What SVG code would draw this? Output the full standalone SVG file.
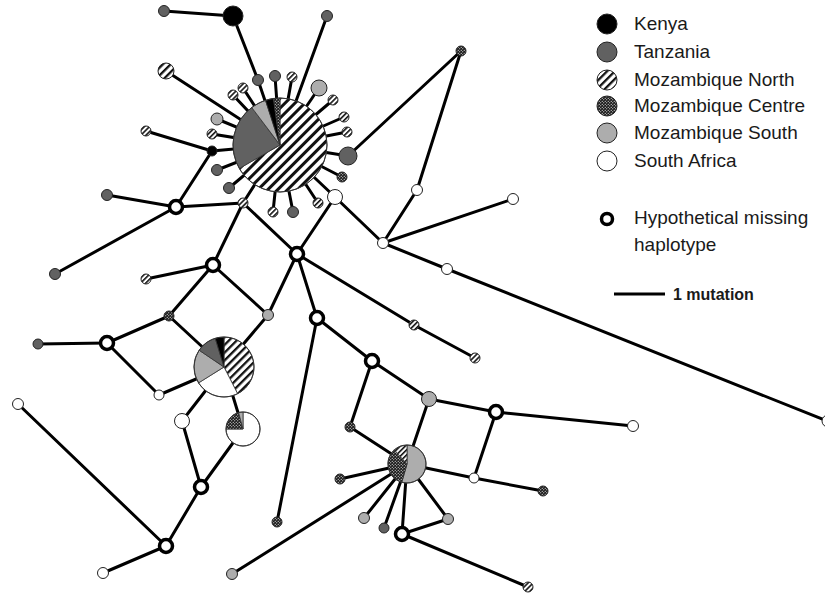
<svg xmlns="http://www.w3.org/2000/svg" width="825" height="594" viewBox="0 0 825 594">
<defs>
<pattern id="h7" patternUnits="userSpaceOnUse" width="7" height="7" patternTransform="rotate(45)"><rect width="7" height="7" fill="#fff"/><rect x="0" width="3" height="7" fill="#111"/></pattern>
<pattern id="h5" patternUnits="userSpaceOnUse" width="5.5" height="5.5" patternTransform="rotate(45)"><rect width="5.5" height="5.5" fill="#fff"/><rect x="0" width="2.3" height="5.5" fill="#111"/></pattern>
<pattern id="h3" patternUnits="userSpaceOnUse" width="3.6" height="3.6" patternTransform="rotate(45)"><rect width="3.6" height="3.6" fill="#fff"/><rect x="0" width="1.6" height="3.6" fill="#111"/></pattern>
<pattern id="ck" patternUnits="userSpaceOnUse" width="3" height="3"><rect width="3" height="3" fill="#1a1a1a"/><circle cx="0.75" cy="0.75" r="0.6" fill="#fff"/><circle cx="2.25" cy="2.25" r="0.6" fill="#fff"/></pattern>
</defs>
<style>
.e{stroke:#000;stroke-width:3;fill:none;stroke-linecap:round}
.n{stroke:#222;stroke-width:1}
.k{fill:#000}
.t{fill:#616161}
.ms{fill:#adadad}
.sa{fill:#fff}
.mn{fill:url(#h3)}
.mnb{fill:url(#h5)}
.mc{fill:url(#ck)}
.mi{fill:#fff;stroke:#000;stroke-width:3.5}
.sl{stroke:#333;stroke-width:0.8}
text{font-family:"Liberation Sans",Arial,sans-serif;fill:#1a1a1a}
.lg{font-size:19px}
.sc{font-size:16px;font-weight:bold}
</style>
<rect width="825" height="594" fill="#fff"/>
<g id="connectors">
<line class="e" x1="233" y1="16" x2="164" y2="11"/>
<line class="e" x1="233" y1="16" x2="258" y2="80"/>
<line class="e" x1="258" y1="80" x2="280" y2="145"/>
<line class="e" x1="275" y1="76" x2="280" y2="145"/>
<line class="e" x1="292" y1="77" x2="280" y2="145"/>
<line class="e" x1="327" y1="16" x2="280" y2="145"/>
<line class="e" x1="243" y1="88" x2="280" y2="145"/>
<line class="e" x1="233" y1="95" x2="280" y2="145"/>
<line class="e" x1="166" y1="71" x2="280" y2="145"/>
<line class="e" x1="217" y1="119" x2="280" y2="145"/>
<line class="e" x1="212" y1="134" x2="280" y2="145"/>
<line class="e" x1="212" y1="151" x2="280" y2="145"/>
<line class="e" x1="146" y1="131" x2="212" y2="151"/>
<line class="e" x1="212" y1="151" x2="176" y2="207"/>
<line class="e" x1="217" y1="170" x2="280" y2="145"/>
<line class="e" x1="229" y1="188" x2="280" y2="145"/>
<line class="e" x1="243" y1="203" x2="280" y2="145"/>
<line class="e" x1="273" y1="212" x2="280" y2="145"/>
<line class="e" x1="293" y1="212" x2="280" y2="145"/>
<line class="e" x1="318" y1="203" x2="280" y2="145"/>
<line class="e" x1="335" y1="197" x2="280" y2="145"/>
<line class="e" x1="342" y1="177" x2="280" y2="145"/>
<line class="e" x1="348" y1="156" x2="280" y2="145"/>
<line class="e" x1="347" y1="132" x2="280" y2="145"/>
<line class="e" x1="344" y1="117" x2="280" y2="145"/>
<line class="e" x1="333" y1="100" x2="280" y2="145"/>
<line class="e" x1="319" y1="88" x2="280" y2="145"/>
<line class="e" x1="348" y1="156" x2="461" y2="51"/>
<line class="e" x1="461" y1="51" x2="417" y2="190"/>
<line class="e" x1="417" y1="190" x2="383" y2="243"/>
<line class="e" x1="383" y1="243" x2="513" y2="199"/>
<line class="e" x1="383" y1="243" x2="447" y2="269"/>
<line class="e" x1="447" y1="269" x2="827" y2="421"/>
<line class="e" x1="335" y1="197" x2="383" y2="243"/>
<line class="e" x1="335" y1="197" x2="297" y2="254"/>
<line class="e" x1="176" y1="207" x2="107" y2="195"/>
<line class="e" x1="176" y1="207" x2="55" y2="274"/>
<line class="e" x1="176" y1="207" x2="243" y2="203"/>
<line class="e" x1="243" y1="203" x2="213" y2="265"/>
<line class="e" x1="243" y1="203" x2="297" y2="254"/>
<line class="e" x1="213" y1="265" x2="146" y2="279"/>
<line class="e" x1="213" y1="265" x2="169" y2="316"/>
<line class="e" x1="213" y1="265" x2="268" y2="315"/>
<line class="e" x1="297" y1="254" x2="268" y2="315"/>
<line class="e" x1="297" y1="254" x2="317" y2="318"/>
<line class="e" x1="297" y1="254" x2="414" y2="325"/>
<line class="e" x1="414" y1="325" x2="475" y2="358"/>
<line class="e" x1="169" y1="316" x2="107" y2="343"/>
<line class="e" x1="169" y1="316" x2="224" y2="367"/>
<line class="e" x1="107" y1="343" x2="38" y2="344"/>
<line class="e" x1="107" y1="343" x2="159" y2="395"/>
<line class="e" x1="159" y1="395" x2="224" y2="367"/>
<line class="e" x1="268" y1="315" x2="224" y2="367"/>
<line class="e" x1="224" y1="367" x2="182" y2="421"/>
<line class="e" x1="224" y1="367" x2="243" y2="429"/>
<line class="e" x1="182" y1="421" x2="201" y2="487"/>
<line class="e" x1="243" y1="429" x2="201" y2="487"/>
<line class="e" x1="201" y1="487" x2="166" y2="546"/>
<line class="e" x1="166" y1="546" x2="18" y2="404"/>
<line class="e" x1="166" y1="546" x2="103" y2="573"/>
<line class="e" x1="317" y1="318" x2="277" y2="522"/>
<line class="e" x1="317" y1="318" x2="372" y2="361"/>
<line class="e" x1="372" y1="361" x2="350" y2="427"/>
<line class="e" x1="372" y1="361" x2="429" y2="399"/>
<line class="e" x1="429" y1="399" x2="407" y2="464"/>
<line class="e" x1="429" y1="399" x2="496" y2="412"/>
<line class="e" x1="496" y1="412" x2="633" y2="426"/>
<line class="e" x1="496" y1="412" x2="474" y2="478"/>
<line class="e" x1="350" y1="427" x2="407" y2="464"/>
<line class="e" x1="340" y1="479" x2="407" y2="464"/>
<line class="e" x1="232" y1="574" x2="407" y2="464"/>
<line class="e" x1="364" y1="518" x2="407" y2="464"/>
<line class="e" x1="384" y1="528" x2="407" y2="464"/>
<line class="e" x1="402" y1="534" x2="407" y2="464"/>
<line class="e" x1="448" y1="519" x2="407" y2="464"/>
<line class="e" x1="474" y1="478" x2="407" y2="464"/>
<line class="e" x1="474" y1="478" x2="543" y2="491"/>
<line class="e" x1="402" y1="534" x2="448" y2="519"/>
<line class="e" x1="402" y1="534" x2="528" y2="587"/>
</g>
<g id="pie1">
<path class="sl" fill="url(#h7)" d="M280,145 L280,98 A47,47 0 1 1 239.3,168.5 Z"/>
<path class="sl t" d="M280,145 L239.3,168.5 A47,47 0 0 1 251.71,107.46 Z"/>
<path class="sl ms" d="M280,145 L251.71,107.46 A47,47 0 0 1 265.48,100.3 Z"/>
<path class="sl k" d="M280,145 L265.48,100.3 A47,47 0 0 1 273.46,98.46 Z"/>
<path class="sl mc" d="M280,145 L273.46,98.46 A47,47 0 0 1 280,98 Z"/>
<circle cx="280" cy="145" r="47" fill="none" stroke="#333" stroke-width="1"/>
</g>
<g id="pie2">
<path class="sl" fill="url(#h5)" d="M224,367 L224,337 A30,30 0 0 1 237.62,393.73 Z"/>
<path class="sl sa" d="M224,367 L237.62,393.73 A30,30 0 0 1 198.56,382.9 Z"/>
<path class="sl ms" d="M224,367 L198.56,382.9 A30,30 0 0 1 199.13,350.22 Z"/>
<path class="sl t" d="M224,367 L199.13,350.22 A30,30 0 0 1 215.23,338.31 Z"/>
<path class="sl k" d="M224,367 L215.23,338.31 A30,30 0 0 1 224,337 Z"/>
<circle cx="224" cy="367" r="30" fill="none" stroke="#333" stroke-width="1"/>
</g>
<g id="pie3">
<path class="sl sa" d="M243,429 L243,412 A17,17 0 1 1 226,429 Z"/>
<path class="sl mc" d="M243,429 L226,429 A17,17 0 0 1 238.6,412.58 Z"/>
<path class="sl ms" d="M243,429 L238.6,412.58 A17,17 0 0 1 243,412 Z"/>
<circle cx="243" cy="429" r="17" fill="none" stroke="#333" stroke-width="1"/>
</g>
<g id="pie4">
<path class="sl ms" d="M407,464 L407,445 A19,19 0 1 1 401.76,482.26 Z"/>
<path class="sl mc" d="M407,464 L401.76,482.26 A19,19 0 0 1 394.29,449.88 Z"/>
<path class="sl" fill="url(#h3)" d="M407,464 L394.29,449.88 A19,19 0 0 1 407,445 Z"/>
<circle cx="407" cy="464" r="19" fill="none" stroke="#333" stroke-width="1"/>
</g>
<g id="K1"><circle class="n k" cx="233" cy="16" r="10"/></g>
<g id="T1"><circle class="n t" cx="164" cy="11" r="5.5"/></g>
<g id="T2"><circle class="n t" cx="258" cy="80" r="5.5"/></g>
<g id="T3"><circle class="n t" cx="275" cy="76" r="5.5"/></g>
<g id="H1"><circle class="n mn" cx="292" cy="77" r="5"/></g>
<g id="T4"><circle class="n t" cx="327" cy="16" r="5.5"/></g>
<g id="H2"><circle class="n mn" cx="243" cy="88" r="5"/></g>
<g id="H3"><circle class="n mn" cx="233" cy="95" r="5"/></g>
<g id="HL"><circle class="n mnb" cx="166" cy="71" r="8"/></g>
<g id="MS1"><circle class="n ms" cx="217" cy="119" r="6"/></g>
<g id="H4"><circle class="n mn" cx="212" cy="134" r="5"/></g>
<g id="K2"><circle class="n k" cx="212" cy="151" r="5"/></g>
<g id="H5"><circle class="n mn" cx="146" cy="131" r="5"/></g>
<g id="T5"><circle class="n t" cx="217" cy="170" r="5.5"/></g>
<g id="T6"><circle class="n t" cx="229" cy="188" r="5.5"/></g>
<g id="H6"><circle class="n mn" cx="243" cy="203" r="5"/></g>
<g id="H7"><circle class="n mn" cx="273" cy="212" r="5"/></g>
<g id="T7"><circle class="n t" cx="293" cy="212" r="5.5"/></g>
<g id="H8"><circle class="n mn" cx="318" cy="203" r="5"/></g>
<g id="SA1"><circle class="n sa" cx="335" cy="197" r="7.5"/></g>
<g id="MC1"><circle class="n mc" cx="342" cy="177" r="5"/></g>
<g id="T8"><circle class="n t" cx="348" cy="156" r="9"/></g>
<g id="H9"><circle class="n mn" cx="347" cy="132" r="5"/></g>
<g id="H10"><circle class="n mn" cx="344" cy="117" r="5"/></g>
<g id="H11"><circle class="n mn" cx="333" cy="100" r="5"/></g>
<g id="MS2"><circle class="n ms" cx="319" cy="88" r="8"/></g>
<g id="MC2"><circle class="n mc" cx="461" cy="51" r="5"/></g>
<g id="SA2"><circle class="n sa" cx="417" cy="190" r="5.5"/></g>
<g id="SA3"><circle class="n sa" cx="383" cy="243" r="5.5"/></g>
<g id="SA4"><circle class="n sa" cx="513" cy="199" r="5.5"/></g>
<g id="SA5"><circle class="n sa" cx="447" cy="269" r="5.5"/></g>
<g id="SA6"><circle class="n sa" cx="828" cy="421" r="6"/></g>
<g id="M1"><circle class="mi" cx="176" cy="207" r="6.5"/></g>
<g id="T9"><circle class="n t" cx="107" cy="195" r="5.5"/></g>
<g id="T10"><circle class="n t" cx="55" cy="274" r="5.5"/></g>
<g id="M2"><circle class="mi" cx="297" cy="254" r="6.5"/></g>
<g id="M3"><circle class="mi" cx="213" cy="265" r="6.5"/></g>
<g id="H12"><circle class="n mn" cx="146" cy="279" r="5"/></g>
<g id="MC3"><circle class="n mc" cx="169" cy="316" r="5"/></g>
<g id="MS3"><circle class="n ms" cx="268" cy="315" r="5.5"/></g>
<g id="M4"><circle class="mi" cx="317" cy="318" r="6.5"/></g>
<g id="M5"><circle class="mi" cx="107" cy="343" r="6.5"/></g>
<g id="T11"><circle class="n t" cx="38" cy="344" r="5"/></g>
<g id="SA7"><circle class="n sa" cx="159" cy="395" r="5"/></g>
<g id="SA8"><circle class="n sa" cx="182" cy="421" r="7.5"/></g>
<g id="M6"><circle class="mi" cx="201" cy="487" r="6.5"/></g>
<g id="M7"><circle class="mi" cx="166" cy="546" r="6.5"/></g>
<g id="SA9"><circle class="n sa" cx="18" cy="404" r="5.5"/></g>
<g id="SA10"><circle class="n sa" cx="103" cy="573" r="5.5"/></g>
<g id="MC4"><circle class="n mc" cx="277" cy="522" r="5"/></g>
<g id="MS4"><circle class="n ms" cx="232" cy="574" r="5.5"/></g>
<g id="H13"><circle class="n mn" cx="414" cy="325" r="5"/></g>
<g id="H14"><circle class="n mn" cx="475" cy="358" r="5"/></g>
<g id="M8"><circle class="mi" cx="372" cy="361" r="6.5"/></g>
<g id="MS5"><circle class="n ms" cx="429" cy="399" r="7.5"/></g>
<g id="M9"><circle class="mi" cx="496" cy="412" r="6.5"/></g>
<g id="SA11"><circle class="n sa" cx="633" cy="426" r="5.5"/></g>
<g id="MC5"><circle class="n mc" cx="350" cy="427" r="5"/></g>
<g id="MC6"><circle class="n mc" cx="340" cy="479" r="5"/></g>
<g id="MS6"><circle class="n ms" cx="364" cy="518" r="5.5"/></g>
<g id="T12"><circle class="n t" cx="384" cy="528" r="5"/></g>
<g id="M10"><circle class="mi" cx="402" cy="534" r="6.5"/></g>
<g id="MS7"><circle class="n ms" cx="448" cy="519" r="5.5"/></g>
<g id="SA12"><circle class="n sa" cx="474" cy="478" r="5"/></g>
<g id="MC7"><circle class="n mc" cx="543" cy="491" r="5"/></g>
<g id="H15"><circle class="n mn" cx="528" cy="587" r="5"/></g>
<g id="legend">
<circle class="n k" cx="607" cy="24" r="10"/>
<circle class="n t" cx="607" cy="52" r="10"/>
<circle class="n mnb" cx="607" cy="80" r="10"/>
<circle class="n mc" cx="607" cy="106" r="10"/>
<circle class="n ms" cx="607" cy="133" r="10"/>
<circle class="n sa" cx="607" cy="161" r="10"/>
<circle class="mi" cx="607" cy="219" r="5.5" stroke-width="4"/>
<text class="lg" x="634" y="30">Kenya</text>
<text class="lg" x="634" y="58">Tanzania</text>
<text class="lg" x="634" y="86">Mozambique North</text>
<text class="lg" x="634" y="112">Mozambique Centre</text>
<text class="lg" x="634" y="139">Mozambique South</text>
<text class="lg" x="634" y="167">South Africa</text>
<text class="lg" x="634" y="224">Hypothetical missing</text>
<text class="lg" x="634" y="251">haplotype</text>
<line x1="614" y1="294" x2="665" y2="294" stroke="#000" stroke-width="3"/>
<text class="sc" x="673" y="300">1 mutation</text>
</g>
</svg>
